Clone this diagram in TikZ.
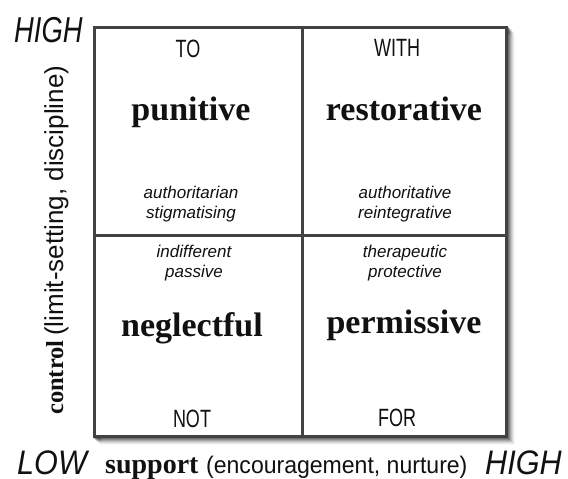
\documentclass[tikz,border=0pt]{standalone}
\usepackage{fontspec}
\setmainfont{Liberation Serif}
\setsansfont{Liberation Sans}
\definecolor{boxline}{HTML}{424242}
\definecolor{txt}{HTML}{111111}
\tikzset{
  qtitle/.style={font=\fontsize{34}{34}\selectfont\bfseries\rmfamily, text=txt, anchor=base, inner sep=0pt},
  qcaps/.style={font=\fontsize{25}{25}\selectfont\sffamily, text=txt, anchor=base, inner sep=0pt},
  qdesc/.style={font=\fontsize{17}{20}\selectfont\sffamily\itshape, text=txt, anchor=base, inner sep=0pt, align=center},
  axbold/.style={font=\fontsize{28}{28}\selectfont\bfseries\rmfamily, text=txt, anchor=base west, inner sep=0pt},
  axsans/.style={font=\fontsize{24}{24}\selectfont\sffamily, text=txt, anchor=base west, inner sep=0pt},
  axends/.style={font=\fontsize{34}{34}\selectfont\sffamily\itshape, text=txt, anchor=base west, inner sep=0pt},
  gridline/.style={draw=boxline, line width=3pt},
}
\newcommand{\narrow}[2]{\scalebox{#1}[1]{#2}}
\begin{document}
\begin{tikzpicture}[x=1pt,y=-1pt]
\useasboundingbox[fill=white] (0,0) rectangle (568,479);
% drop shadow
\foreach \i/\o in {1/0.30,2/0.24,3/0.18,4/0.13,5/0.08,6/0.05,7/0.03}
  \draw[line width=3pt, black, opacity=\o] (94.5+\i,27.5+\i) rectangle (506+\i,436.5+\i);
% grid
\coordinate (tl) at (94.5,27.5);
\coordinate (br) at (506,436.5);
\coordinate (mt) at (302,27.5);
\coordinate (mb) at (302,436.5);
\coordinate (ml) at (94.5,235);
\coordinate (mr) at (506,235);
\fill[white] (tl) rectangle (br);
\draw[gridline] (mt) -- (mb);
\draw[gridline] (ml) -- (mr);
\draw[gridline] (tl) rectangle (br);
% quadrant labels
\node[qcaps] (to) at (188,57) {\narrow{0.72}{TO}};
\node[qcaps] (with) at (397,56) {\narrow{0.72}{WITH}};
\node[qcaps] (not) at (192,427) {\narrow{0.72}{NOT}};
\node[qcaps] (for) at (397,426) {\narrow{0.72}{FOR}};
\node[qtitle] (pun) at (191,120) {punitive};
\node[qtitle] (res) at (404,120) {restorative};
\node[qtitle] (neg) at (192,336) {neglectful};
\node[qtitle] (per) at (404,333) {permissive};
\node[qdesc] (d1a) at (191,198) {authoritarian};
\node[qdesc] (d1b) at (191,218) {stigmatising};
\node[qdesc] (d2a) at (405,198) {authoritative};
\node[qdesc] (d2b) at (405,218) {reintegrative};
\node[qdesc] (d3a) at (194,257) {indifferent};
\node[qdesc] (d3b) at (194,277) {passive};
\node[qdesc] (d4a) at (405,257) {therapeutic};
\node[qdesc] (d4b) at (405,277) {protective};
% axes
\node[axends, font=\fontsize{36}{36}\selectfont\sffamily\itshape] (hightop) at (14,42) {\narrow{0.76}{HIGH}};
\node[axends] (low) at (17,474.5) {\narrow{0.9}{LOW}};
\node[axends] (highbot) at (485,474.5) {\narrow{0.9}{HIGH}};
\node[axbold] (sup) at (105,473) {support};
\node[axsans] (supt) at (206,473) {\narrow{0.96}{(encouragement, nurture)}};
\node[axbold, rotate=90, font=\fontsize{24.5}{24.5}\selectfont\bfseries\rmfamily] (con) at (63,415) {control};
\node[axsans, rotate=90, font=\fontsize{26}{26}\selectfont\sffamily] (cont) at (63,336) {(limit-setting, discipline)};
\end{tikzpicture}
\end{document}
